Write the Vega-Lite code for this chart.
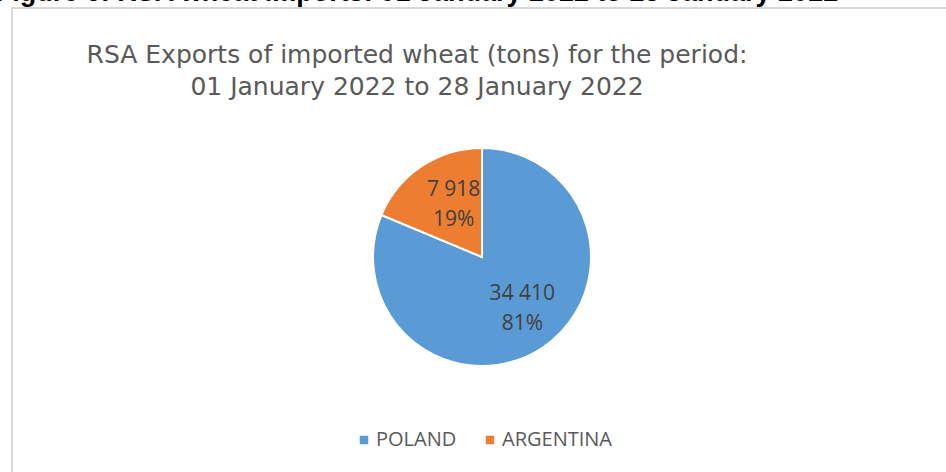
{
  "$schema": "https://vega.github.io/schema/vega-lite/v6.json",
  "autosize": {"type": "none"},
  "width": 940,
  "height": 498,
  "padding": {"left": 12, "top": 8, "right": -6, "bottom": -34},
  "background": "white",
  "view": {"stroke": "#d9d9d9", "strokeWidth": 2},
  "config": {
    "view": {"stroke": "#d9d9d9", "strokeWidth": 2},
    "font": "Open Sans"
  },
  "title": {
    "text": "Figure 6: RSA wheat imports: 01 January 2022 to 28 January 2022",
    "subtitle": ["RSA Exports of imported wheat (tons) for the period:", "01 January 2022 to 28 January 2022"],
    "anchor": "middle",
    "dx": -65,
    "orient": "top",
    "offset": -93,
    "font": "Liberation Sans",
    "fontSize": 27,
    "fontWeight": "bold",
    "color": "#000000",
    "subtitleFont": "DejaVu Sans",
    "subtitleFontSize": 25,
    "subtitleColor": "#595959",
    "subtitleLineHeight": 32,
    "subtitlePadding": 36
  },
  "data": {
    "values": [
      {"country": "POLAND", "tons": 34410, "value_label": "34 410", "pct_label": "81%"},
      {"country": "ARGENTINA", "tons": 7918, "value_label": "7 918", "pct_label": "19%"}
    ]
  },
  "encoding": {
    "theta": {"field": "tons", "type": "quantitative", "stack": true},
    "order": {"field": "country", "sort": "descending"},
    "color": {
      "field": "country",
      "type": "nominal",
      "scale": {"domain": ["POLAND", "ARGENTINA"], "range": ["#5B9BD5", "#ED7D31"]},
      "legend": {
        "title": null,
        "orient": "none",
        "direction": "horizontal",
        "legendX": 342,
        "legendY": 422,
        "symbolType": "square",
        "symbolSize": 72,
        "symbolStrokeWidth": 0,
        "labelFont": "Open Sans",
        "labelFontSize": 20,
        "labelColor": "#595959",
        "labelOffset": 2,
        "columnPadding": 23
      }
    }
  },
  "layer": [
    {
      "mark": {"type": "arc", "outerRadius": 109, "stroke": "white", "strokeWidth": 2}
    },
    {
      "mark": {"type": "text", "radius": 62, "dy": -15, "dx": 6, "font": "Open Sans", "fontSize": 21},
      "encoding": {"text": {"field": "value_label", "type": "nominal"}, "color": {"value": "#404040"}}
    },
    {
      "mark": {"type": "text", "radius": 62, "dy": 15, "dx": 6, "font": "Open Sans", "fontSize": 21},
      "encoding": {"text": {"field": "pct_label", "type": "nominal"}, "color": {"value": "#404040"}}
    }
  ]
}
